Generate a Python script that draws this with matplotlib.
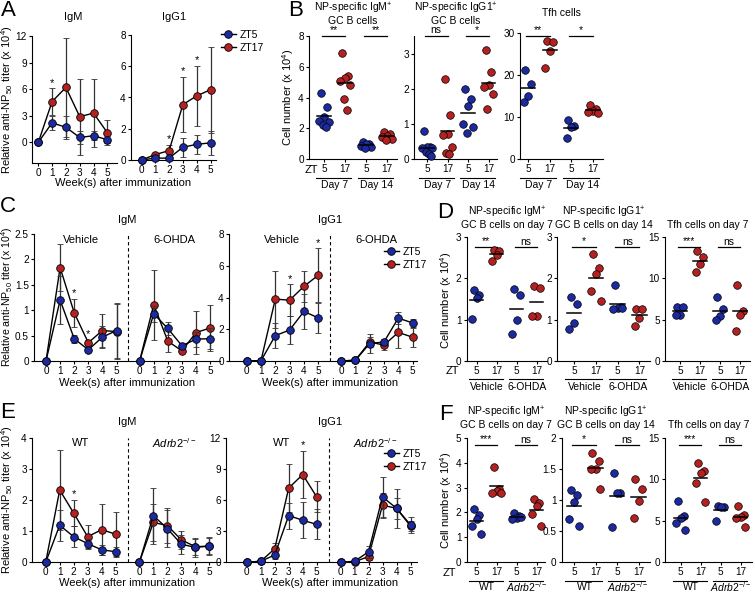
import numpy as np
import matplotlib
matplotlib.use('Agg')
import matplotlib.pyplot as plt
from matplotlib.lines import Line2D
from matplotlib.ticker import FuncFormatter
from matplotlib.transforms import offset_copy

plt.rcParams['font.family'] = ['Liberation Sans', 'DejaVu Sans']
plt.rcParams['font.size'] = 7.5
plt.rcParams['mathtext.fontset'] = 'custom'
plt.rcParams['mathtext.rm'] = 'Liberation Sans'
plt.rcParams['mathtext.it'] = 'Liberation Sans:italic'

BLUE = '#1c2aa0'
RED = '#b52020'
W, H = 755, 593

# ---------------- data ----------------
weeks = [0, 1, 2, 3, 4, 5]
week_labels = ['0', '1', '2', '3', '4', '5']

# A
a_igm_zt5 = [0, 2.2, 1.7, 0.55, 0.75, 0.3]
a_igm_zt5_err = [0, 0.8, 1.3, 0.7, 0.5, 0.4]
a_igm_zt17 = [0, 4.6, 6.2, 2.9, 3.3, 1.1]
a_igm_zt17_err = [0, 1.5, 5.6, 4.3, 3.8, 1.4]
a_igg1_zt5 = [0, 0.12, 0.12, 0.82, 1.0, 1.1]
a_igg1_zt5_err = [0, 0.05, 0.05, 0.6, 0.6, 0.75]
a_igg1_zt17 = [0, 0.35, 0.6, 3.55, 4.1, 4.5]
a_igg1_zt17_err = [0, 0.05, 0.35, 1.75, 1.9, 2.75]
a_igm_stars = [(0, 1)]
a_igg1_stars = [(0, 2), (0, 3), (0, 4)]

# C
c_igm_veh_zt5 = [0, 1.2, 0.44, 0.22, 0.47, 0.6]
c_igm_veh_zt5_err = [0, 0.47, 0.08, 0.04, 0.22, 0.55]
c_igm_veh_zt17 = [0, 1.84, 0.95, 0.36, 0.6, 0.58]
c_igm_veh_zt17_err = [0, 0.46, 0.28, 0.05, 0.32, 0.54]
c_igm_ohda_zt5 = [0, 0.93, 0.64, 0.3, 0.43, 0.44]
c_igm_ohda_zt5_err = [0, 0.16, 0.12, 0.03, 0.15, 0.2]
c_igm_ohda_zt17 = [0, 1.11, 0.39, 0.2, 0.56, 0.65]
c_igm_ohda_zt17_err = [0, 0.69, 0.22, 0.02, 0.42, 0.45]
c_igg1_veh_zt5 = [0, 0.02, 1.6, 1.95, 3.12, 2.72]
c_igg1_veh_zt5_err = [0, 0, 0.8, 0.9, 1.1, 0.95]
c_igg1_veh_zt17 = [0, 0.02, 3.9, 3.83, 4.7, 5.4]
c_igg1_veh_zt17_err = [0, 0, 1.8, 1.0, 1.0, 1.7]
c_igg1_ohda_zt5 = [0, 0.05, 1.1, 1.2, 2.7, 2.4]
c_igg1_ohda_zt5_err = [0, 0, 0.6, 0.2, 0.4, 0.25]
c_igg1_ohda_zt17 = [0, 0.05, 1.2, 1.0, 1.8, 1.5]
c_igg1_ohda_zt17_err = [0, 0, 0.3, 0.3, 1.0, 0.6]
c_igm_stars = [(0, 2), (0, 3)]
c_igg1_stars = [(0, 3), (0, 5)]

# E
e_igm_wt_zt5 = [0, 1.19, 0.82, 0.6, 0.4, 0.34]
e_igm_wt_zt5_err = [0, 0.5, 0.33, 0.15, 0.15, 0.15]
e_igm_wt_zt17 = [0, 2.32, 1.58, 0.82, 1.05, 0.9]
e_igm_wt_zt17_err = [0, 1.28, 0.43, 0.38, 0.82, 0.72]
e_igm_ko_zt5 = [0, 1.5, 1.08, 0.58, 0.48, 0.52]
e_igm_ko_zt5_err = [0, 0.9, 0.6, 0.3, 0.3, 0.28]
e_igm_ko_zt17 = [0, 1.28, 1.18, 0.72, 0.5, 0.52]
e_igm_ko_zt17_err = [0, 0.6, 0.55, 0.3, 0.25, 0.25]
e_igg1_wt_zt5 = [0, 0.1, 0.7, 4.5, 4.05, 3.65]
e_igg1_wt_zt5_err = [0, 0.05, 0.4, 1.25, 1.75, 1.45]
e_igg1_wt_zt17 = [0, 0.1, 1.3, 7.15, 8.45, 6.3]
e_igg1_wt_zt17_err = [0, 0.05, 0.6, 2.35, 2.3, 1.5]
e_igg1_ko_zt5 = [0, 0.1, 1.0, 6.3, 5.2, 3.6]
e_igg1_ko_zt5_err = [0, 0.05, 0.6, 1.9, 1.9, 0.8]
e_igg1_ko_zt17 = [0, 0.05, 0.55, 5.5, 5.2, 3.5]
e_igg1_ko_zt17_err = [0, 0, 0.3, 1.2, 1.0, 0.5]
e_igm_stars = [(0, 2)]
e_igg1_stars = [(0, 4)]

# B (order: ZT5 day7, ZT17 day7, ZT5 day14, ZT17 day14)
b_igm = [[4.3, 3.4, 2.7, 2.5, 2.4, 2.2, 2.1],
         [6.9, 5.4, 5.3, 5.1, 4.8, 3.9, 3.2],
         [1.1, 1.0, 0.95, 0.85, 0.75, 0.7],
         [1.75, 1.6, 1.5, 1.4, 1.3, 1.25]]
b_igg1 = [[0.8, 0.35, 0.35, 0.3, 0.3, 0.2, 0.15, 0.08],
          [2.28, 1.26, 0.72, 0.68, 0.35, 0.18, 0.15],
          [1.98, 1.72, 1.52, 1.0, 0.9, 0.75],
          [3.1, 2.47, 2.1, 2.05, 1.85, 1.42]]
b_tfh = [[21.3, 17.9, 15.0, 13.6],
         [28.2, 27.8, 25.8, 21.7],
         [9.3, 7.9, 7.6, 5.1],
         [12.9, 11.8, 11.5, 11.3, 11.0]]
b_sig = [['**', '**'], ['ns', '*'], ['**', '*']]
b_groups = ['Day 7', 'Day 14']

# D (order: ZT5 veh, ZT17 veh, ZT5 6-OHDA, ZT17 6-OHDA)
d_igm = [[1.72, 1.6, 1.53, 1.02],
         [2.68, 2.66, 2.58, 2.42],
         [1.75, 1.6, 0.98, 0.66],
         [1.81, 1.76, 1.09, 1.08]]
d_igg1 = [[1.56, 1.39, 0.92, 0.77],
          [2.6, 2.25, 2.1, 1.7, 1.45],
          [1.84, 1.3, 1.27, 1.25, 1.28],
          [1.25, 1.25, 1.05, 0.85]]
d_tfh = [[6.5, 6.5, 5.5, 5.5],
         [13.3, 12.6, 11.8, 10.8],
         [7.8, 6.3, 5.4, 4.9],
         [9.2, 6.0, 5.5, 3.6]]
d_sig = [['**', 'ns'], ['*', 'ns'], ['***', 'ns']]
d_groups = ['Vehicle', '6-OHDA']

# F (order: ZT5 WT, ZT17 WT, ZT5 KO, ZT17 KO)
f_igm = [[2.12, 1.88, 1.72, 1.45, 1.15],
         [3.82, 2.95, 2.88, 2.8, 2.78],
         [1.98, 1.85, 1.78, 1.75, 1.8],
         [2.55, 2.38, 2.25, 1.95, 1.45]]
f_igg1 = [[1.16, 1.08, 0.97, 0.69, 0.59],
          [1.75, 1.63, 1.49, 1.49, 1.17],
          [1.44, 1.12, 1.11, 0.57],
          [1.33, 1.17, 0.99, 0.71]]
f_tfh = [[7.4, 5.6, 5.3, 4.7, 3.9],
         [11.9, 11.0, 10.8, 9.6, 7.3],
         [6.8, 6.7, 6.6, 5.0],
         [6.8, 5.7, 5.5, 5.3, 4.2]]
f_sig = [['***', 'ns'], ['*', 'ns'], ['***', 'ns']]
f_groups = ['WT', r'$\mathit{Adrb2}^{-/-}$']

zt_labels = ['5', '17', '5', '17']
jitter = [-0.14, 0.14, 0.0, -0.22, 0.22, -0.07, 0.08, 0.18]

fig = plt.figure(figsize=(W / 100, H / 100), dpi=100)


def add_ax(l, t, r, b):
    ax = fig.add_axes([l / W, 1 - b / H, (r - l) / W, (b - t) / H])
    for s in ('top', 'right'):
        ax.spines[s].set_visible(False)
    for s in ('left', 'bottom'):
        ax.spines[s].set_linewidth(0.8)
    ax.tick_params(length=2.5, width=0.8, labelsize=7.2, pad=1.2)
    ax.yaxis.set_major_formatter(FuncFormatter(lambda v, p: f'{v:g}'))
    return ax


def ftext(x, y, s, **kw):
    fig.text(x / W, 1 - y / H, s, ha=kw.pop('ha', 'center'), va=kw.pop('va', 'center'), **kw)


def titer_panel(l, t, r, b, x0, sp, groups, offsets, ylim, yticks, stars,
                group_names=None, dash=None):
    ax = add_ax(l, t, r, b)
    ax.set_xlim((l - x0) / sp, (r - x0) / sp)
    ax.set_ylim(*ylim)
    ax.set_yticks(yticks)
    ticks, labels = [], []
    for (z5, e5, z17, e17), off in zip(groups, offsets):
        x = np.array(weeks) + off
        for y, e, col, zo in ((z17, e17, RED, 3), (z5, e5, BLUE, 4)):
            cont = ax.errorbar(x, y, yerr=e, fmt='-o', color='k', ecolor='0.2',
                               elinewidth=0.9, capsize=2.3, capthick=0.9, mfc=col,
                               mec='k', mew=0.6, ms=5.5, lw=1, zorder=zo)
            for art in cont.get_children():
                art.set_clip_on(False)
        ticks += list(x)
        labels += week_labels
    ax.set_xticks(ticks, labels)
    for gi, w in stars:
        z5, e5, z17, e17 = groups[gi]
        top = max(z5[w] + e5[w], z17[w] + e17[w])
        ax.annotate('*', (w + offsets[gi], top), xytext=(0, 0.5), textcoords='offset points',
                    ha='center', va='bottom', fontsize=8)
    if dash is not None:
        ax.axvline(dash, color='k', ls=(0, (3, 2.5)), lw=0.8)
    if group_names:
        for name, off in zip(group_names, offsets):
            ax.text(2.5 + off, 0.955, name, transform=ax.get_xaxis_transform(),
                    ha='center', va='center', fontsize=8)
    return ax


def cell_panel(l, t, r, b, p0, sp, values, ylim, yticks, sig, sig_y, groups,
               title, title_pad, group_off=19):
    ax = add_ax(l, t, r, b)
    ax.set_xlim((l - p0) / sp, (r - p0) / sp)
    ax.set_ylim(*ylim)
    ax.set_yticks(yticks)
    ax.set_xticks(range(4), zt_labels)
    cols = [BLUE, RED, BLUE, RED]
    for i, v in enumerate(values):
        xs = i + np.array(jitter[:len(v)])
        ax.scatter(xs, v, s=30, c=cols[i], edgecolors='k', linewidths=0.5,
                   zorder=3, clip_on=False)
        m = np.mean(v)
        ax.plot([i - 0.33, i + 0.33], [m, m], color='k', lw=1.1, zorder=4)
    xtr = ax.get_xaxis_transform()
    for k in range(2):
        a, c = 2 * k, 2 * k + 1
        ax.plot([a - 0.1, c], [sig_y, sig_y], color='k', lw=0.9, transform=xtr,
                clip_on=False)
        ax.text((a + c) / 2 - 0.05, sig_y + 0.005, sig[k], transform=xtr,
                ha='center', va='bottom', fontsize=7.5)
        utr = offset_copy(xtr, fig=fig, y=-13.5, units='points')
        ax.plot([a - 0.4, c + 0.3], [0, 0], color='k', lw=0.8, transform=utr,
                clip_on=False)
        gtr = offset_copy(xtr, fig=fig, y=-group_off, units='points')
        ax.text((a + c) / 2, 0, groups[k], transform=gtr, ha='center', va='center',
                fontsize=7.5)
    ax.set_title(title, fontsize=7.5, pad=title_pad, linespacing=1.0)
    return ax


def add_legend(ax, x, y):
    h = [Line2D([], [], color='k', lw=1, marker='o', mfc=c, mec='k', mew=0.6, ms=5.5)
         for c in (BLUE, RED)]
    ax.legend(h, ['ZT5', 'ZT17'], loc='upper left', bbox_to_anchor=(x / W, 1 - y / H),
              bbox_transform=fig.transFigure, frameon=False, fontsize=7.5,
              handlelength=1.4, handletextpad=0.4, borderpad=0, borderaxespad=0,
              labelspacing=0.3)


ylab = 'Relative anti-NP$_{50}$ titer (x 10$^{4}$)'
clab = 'Cell number (x 10$^{4}$)'
xlab = 'Week(s) after immunization'

# ---------- A ----------
titer_panel(32, 36, 117, 163, 38.3, 13.8,
            [(a_igm_zt5, a_igm_zt5_err, a_igm_zt17, a_igm_zt17_err)], [0],
            (-2.33, 12), [0, 3, 6, 9, 12], a_igm_stars)
ax = titer_panel(131, 35, 216, 160, 141.5, 13.8,
                 [(a_igg1_zt5, a_igg1_zt5_err, a_igg1_zt17, a_igg1_zt17_err)], [0],
                 (0, 8), [0, 2, 4, 6, 8], a_igg1_stars)
add_legend(ax, 221, 30)
ftext(73, 17, 'IgM', fontsize=8)
ftext(174, 17, 'IgG1', fontsize=8)
ftext(123, 183, xlab, fontsize=8)
ftext(7, 100, ylab, rotation=90, fontsize=8)

# ---------- C ----------
titer_panel(34, 234, 220, 361, 46, 14.1,
            [(c_igm_veh_zt5, c_igm_veh_zt5_err, c_igm_veh_zt17, c_igm_veh_zt17_err),
             (c_igm_ohda_zt5, c_igm_ohda_zt5_err, c_igm_ohda_zt17, c_igm_ohda_zt17_err)],
            [0, 6.64], (0, 2.5), [0, 0.5, 1, 1.5, 2, 2.5], c_igm_stars,
            ['Vehicle', '6-OHDA'], 5.82)
ax = titer_panel(229, 234, 417, 361, 246.7, 14.3,
                 [(c_igg1_veh_zt5, c_igg1_veh_zt5_err, c_igg1_veh_zt17, c_igg1_veh_zt17_err),
                  (c_igg1_ohda_zt5, c_igg1_ohda_zt5_err, c_igg1_ohda_zt17, c_igg1_ohda_zt17_err)],
                 [0, 6.6], (0, 8), [0, 2, 4, 6, 8], c_igg1_stars,
                 ['Vehicle', '6-OHDA'], 5.8)
add_legend(ax, 384, 247)
ftext(127, 220, 'IgM', fontsize=8)
ftext(330, 220, 'IgG1', fontsize=8)
ftext(127, 383, xlab, fontsize=8)
ftext(330, 383, xlab, fontsize=8)
ftext(7, 297, ylab, rotation=90, fontsize=7.6)

# ---------- E ----------
titer_panel(32, 437.7, 220, 562.3, 45.7, 14,
            [(e_igm_wt_zt5, e_igm_wt_zt5_err, e_igm_wt_zt17, e_igm_wt_zt17_err),
             (e_igm_ko_zt5, e_igm_ko_zt5_err, e_igm_ko_zt17, e_igm_ko_zt17_err)],
            [0, 6.69], (0, 4), [0, 1, 2, 3, 4], e_igm_stars,
            ['WT', r'$\mathit{Adrb2}^{-/-}$'], 5.86)
ax = titer_panel(226, 437.7, 417, 562.3, 246.7, 14,
                 [(e_igg1_wt_zt5, e_igg1_wt_zt5_err, e_igg1_wt_zt17, e_igg1_wt_zt17_err),
                  (e_igg1_ko_zt5, e_igg1_ko_zt5_err, e_igg1_ko_zt17, e_igg1_ko_zt17_err)],
                 [0, 6.7], (0, 12), [0, 3, 6, 9, 12], e_igg1_stars,
                 ['WT', r'$\mathit{Adrb2}^{-/-}$'], 5.88)
add_legend(ax, 384, 449)
ftext(127, 422, 'IgM', fontsize=8)
ftext(330, 422, 'IgG1', fontsize=8)
ftext(127, 583, xlab, fontsize=8)
ftext(330, 583, xlab, fontsize=8)
ftext(7, 500, ylab, rotation=90, fontsize=8)

# ---------- B ----------
cell_panel(309, 36, 397, 159, 324, 21, b_igm, (0, 8), [0, 2, 4, 6, 8], b_sig[0],
           1.0, b_groups, 'NP-specific IgM$^{+}$\nGC B cells', 9)
cell_panel(414, 36, 497, 159, 427, 20.5, b_igg1, (0, 3.5), [0, 1, 2, 3], b_sig[1],
           1.0, b_groups, 'NP-specific IgG1$^{+}$\nGC B cells', 9)
cell_panel(520, 33, 603, 159, 528.3, 21.5, b_tfh, (0, 30), [0, 10, 20, 30], b_sig[2],
           0.975, b_groups, 'Tfh cells', 12)
ftext(311, 170, 'ZT', fontsize=8)
ftext(288, 97, clab, rotation=90, fontsize=8)

# ---------- D ----------
cell_panel(466.7, 237.3, 547, 360.7, 476.7, 20, d_igm, (0, 3), [0, 1, 2, 3], d_sig[0],
           0.92, d_groups, 'NP-specific IgM$^{+}$\nGC B cells on day 7', 7)
cell_panel(557, 237.3, 650, 360.7, 574, 21.8, d_igg1, (0, 3), [0, 1, 2, 3], d_sig[1],
           0.92, d_groups, 'NP-specific IgG1$^{+}$\nGC B cells on day 14', 7)
cell_panel(665, 237.3, 750, 360.7, 680, 20, d_tfh, (0, 15), [0, 5, 10, 15], d_sig[2],
           0.92, d_groups, 'Tfh cells on day 7', 7)
ftext(452, 371, 'ZT', fontsize=8)
ftext(446, 300, clab, rotation=90, fontsize=8)

# ---------- F ----------
cell_panel(466.7, 437.7, 545, 562.3, 476.7, 20, f_igm, (0, 5), [0, 1, 2, 3, 4, 5],
           f_sig[0], 0.94, f_groups, 'NP-specific IgM$^{+}$\nGC B cells on day 7', 7, 18)
cell_panel(561.7, 437.7, 650, 562.3, 574, 21.5, f_igg1, (0, 2), [0, 0.5, 1, 1.5, 2],
           f_sig[1], 0.94, f_groups, 'NP-specific IgG1$^{+}$\nGC B cells on day 14', 7, 18)
cell_panel(665, 437.7, 752, 562.3, 680.7, 20, f_tfh, (0, 15), [0, 5, 10, 15],
           f_sig[2], 0.94, f_groups, 'Tfh cells on day 7', 7, 18)
ftext(449, 573, 'ZT', fontsize=8)
ftext(446, 500, clab, rotation=90, fontsize=8)

# panel letters
for letter, x, y in (('A', 8, 10), ('B', 296, 11), ('C', 8, 207), ('D', 445, 213),
                     ('E', 8, 413), ('F', 446, 415)):
    ftext(x, y, letter, fontsize=16)

fig.savefig('out.png', dpi=100)
